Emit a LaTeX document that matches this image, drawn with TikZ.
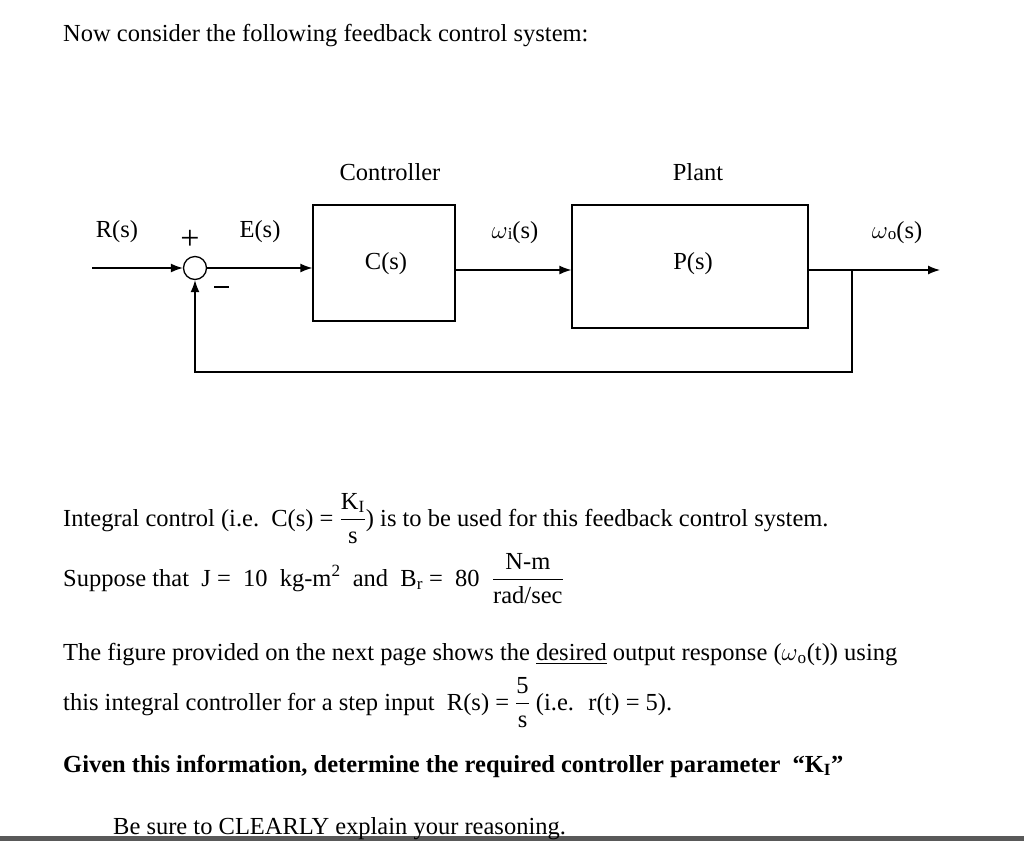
\documentclass[tikz,border=0pt]{standalone}
\usepackage{amsmath}
\usepackage{fontspec}
\setmainfont{Liberation Serif}
\usetikzlibrary{arrows.meta, positioning, calc}

\begin{document}
\begin{tikzpicture}[x=1pt, y=-1pt, every node/.style={font=\fontsize{24.5}{29}\selectfont},
	blk/.style={draw, line width=1.3pt, minimum width=142pt, minimum height=116pt, inner sep=0pt},
	sig/.style={line width=1.3pt, -{Latex[length=12pt,width=9pt]}},
	txt/.style={anchor=base west, inner sep=0pt}]
	
	% Frame
	\useasboundingbox (0,0) rectangle (1024,841);
	\fill[gray!70!black] (0,836) rectangle (1024,841);
	
	\node[txt] (intro) at (63,41) {Now consider the following feedback control system:};
	
	% Blocks
	\node[circle, draw, line width=1.3pt, minimum size=23pt, inner sep=0pt] (sum) at (195,268) {};
	\node[blk] (ctrl) at (384,263) {};
	\node[blk, minimum width=236pt, minimum height=123pt] (plant) at (690,266.5) {};
	\node at (386,264) (cs) {C(s)};
	\node at (693,264) (ps) {P(s)};
	\node at (390,172) (ctrllab) {Controller};
	\node at (698,172) (plantlab) {Plant};
	
	% Points
	\coordinate (in) at (92,268);
	\coordinate (out) at (940,270);
	\coordinate (tap) at (852,270);
	\coordinate (fb1) at (852,372);
	\coordinate (fb2) at (195,372);
	
	% Signals
	\draw[sig] (in) -- (sum);
	\draw[sig] (sum) -- (sum -| ctrl.west);
	\draw[sig] (ctrl.east |- tap) -- (plant.west |- tap);
	\draw[sig] (plant.east |- tap) -- (out);
	\draw[sig] (tap) -- (fb1) -- (fb2) -- (sum);
	
	% Labels
	\node at (117,232) (rlab) {R(s)};
	\node at (260,232) (elab) {E(s)};
	\node at (515,233) (wilab) {$\omega$\raisebox{-1pt}{\fontsize{17}{17}\selectfont i}(s)};
	\node at (897,233) (wolab) {$\omega$\raisebox{-1pt}{\fontsize{17}{17}\selectfont o}(s)};
	\node[font=\fontsize{34}{34}\selectfont] at (190,240) (plus) {+};
	\draw[line width=2.5pt] (214,287) -- (229,287);
	
	% Text below
	\node[txt] (t1) at (63,526) {Integral control (i.e.\ \ C(s) = $\dfrac{\text{K}_\text{I}}{\text{s}}$) is to be used for this feedback control system.};
	\node[txt] (t2) at (63,586) {Suppose that \ J = \ 10 \ kg-m\textsuperscript{2} \ and \ B\textsubscript{r} = \ 80 \ $\dfrac{\text{N-m}}{\text{rad/sec}}$};
	\node[txt] (t3) at (63,660) {The figure provided on the next page shows the \underline{desired} output response ($\omega$\textsubscript{o}(t)) using};
	\node[txt] (t4) at (63,710) {this integral controller for a step input \ R(s) = $\dfrac{\text{5}}{\text{s}}$ (i.e. \ r(t) = 5).};
	\node[txt, font=\fontsize{24.5}{29}\selectfont\bfseries] (t5) at (63,772) {Given this information, determine the required controller parameter \ “K\textsubscript{I}”};
	\node[txt] (t6) at (113,834) {Be sure to CLEARLY explain your reasoning.};
\end{tikzpicture}
\end{document}
